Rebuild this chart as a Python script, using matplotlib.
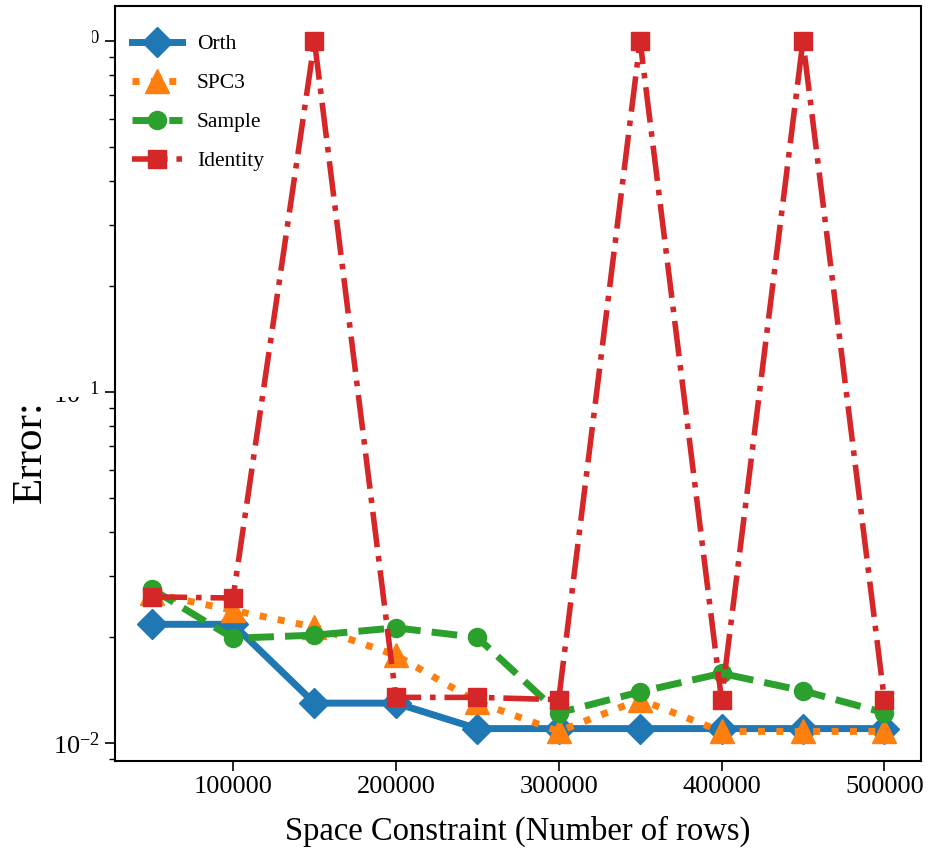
import matplotlib
matplotlib.use("Agg")
import matplotlib.pyplot as plt
from matplotlib.patches import Rectangle

plt.rcParams['font.family'] = ['Liberation Serif', 'DejaVu Serif']
plt.rcParams['mathtext.fontset'] = 'stix'

x = [50000, 100000, 150000, 200000, 250000, 300000, 350000, 400000, 450000, 500000]
orth = [0.0218, 0.0218, 0.0130, 0.0130, 0.0110, 0.0110, 0.0110, 0.0110, 0.0110, 0.0110]
spc3 = [0.0267, 0.0239, 0.0214, 0.0178, 0.0131, 0.0108, 0.0133, 0.0108, 0.0108, 0.0108]
sample = [0.0275, 0.0199, 0.0203, 0.0213, 0.0200, 0.0122, 0.0140, 0.0158, 0.0141, 0.0122]
identity = [0.0261, 0.0259, 1.0, 0.0135, 0.0135, 0.0133, 1.0, 0.0133, 1.0, 0.0133]
xticks = [100000, 200000, 300000, 400000, 500000]

fig = plt.figure(figsize=(9.44, 8.55), dpi=100)
ax = fig.add_axes([0.1218, 0.1099, 0.8538, 0.8831])

ax.plot(x, orth, '-', marker='D', color='#1f77b4', lw=5, ms=15, label='Orth')
ax.plot(x, spc3, ':', marker='^', color='#ff7f0e', lw=5, ms=17, label='SPC3')
ax.plot(x, sample, '--', marker='o', color='#2ca02c', lw=5, ms=13, label='Sample')
ax.plot(x, identity, '-.', marker='s', color='#d62728', lw=4, ms=13, label='Identity')

ax.set_yscale('log')
ax.set_ylim(10**-2.051, 10**0.0997)
ax.set_xlim(27500, 522500)
ax.set_xticks(xticks)
ax.set_xticklabels([str(v) for v in xticks])
ax.tick_params(axis='both', which='major', labelsize=19, length=7, width=1.2)
ax.tick_params(axis='y', which='minor', length=4, width=1)
for s in ax.spines.values():
    s.set_linewidth(1.5)

ax.set_xlabel('Space Constraint (Number of rows)', fontsize=23.5, labelpad=13)
ax.set_ylabel('Error:', fontsize=31)
ax.yaxis.set_label_coords(-0.081, 0.41)

ax.legend(loc='upper left', bbox_to_anchor=(-0.013, 1.0), frameon=False,
          fontsize=15.5, handlelength=2.3, borderaxespad=0.9,
          labelspacing=0.88, handletextpad=0.7)

fig.patches.append(Rectangle((0, 0.5357), 0.0975, 0.4643, transform=fig.transFigure,
                             facecolor='white', edgecolor='none', zorder=10))

fig.savefig('out.png', dpi=100)
